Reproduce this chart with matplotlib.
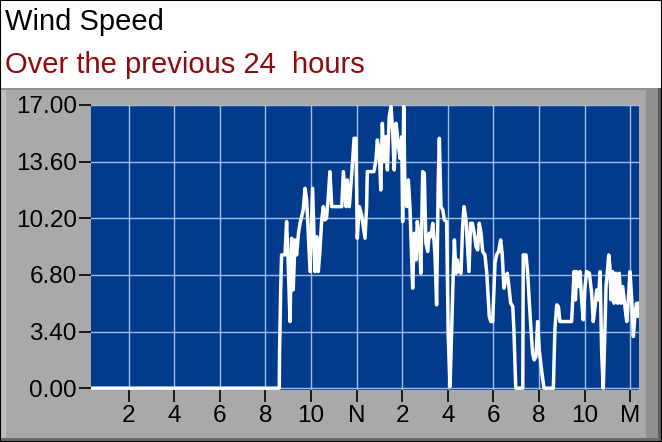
import matplotlib
matplotlib.use("Agg")
import matplotlib.pyplot as plt
from matplotlib.patches import Rectangle

# hours after midnight and wind speed
hours = [0.34, 8.61, 8.62, 8.67, 8.71, 8.86, 8.93, 9.00, 9.08, 9.15, 9.22, 9.30, 9.37, 9.45,
         9.52, 9.66, 9.74, 9.81, 9.91, 9.96, 10.07, 10.18, 10.25, 10.32, 10.39, 10.47, 10.54,
         10.61, 10.68, 10.76, 10.83, 10.91, 11.35, 11.42, 11.54, 11.59, 11.68, 11.79, 11.89,
         11.97, 12.03, 12.12, 12.22, 12.37, 12.44, 12.47, 12.76, 12.85, 12.91, 13.00, 13.06,
         13.13, 13.20, 13.29, 13.35, 13.43, 13.51, 13.58, 13.65, 13.73, 13.83, 13.90, 13.98,
         14.02, 14.07, 14.12, 14.20, 14.27, 14.34, 14.42, 14.46, 14.53, 14.61, 14.66, 14.74,
         14.82, 14.90, 14.97, 15.04, 15.12, 15.19, 15.26, 15.34, 15.44, 15.51, 15.58, 15.63,
         15.70, 15.78, 15.85, 15.95, 16.02, 16.10, 16.17, 16.24, 16.29, 16.36, 16.42, 16.48,
         16.58, 16.65, 16.71, 16.80, 16.86, 16.93, 17.00, 17.08, 17.16, 17.24, 17.31, 17.38,
         17.46, 17.53, 17.63, 17.71, 17.82, 17.89, 17.97, 18.07, 18.14, 18.23, 18.32, 18.39,
         18.46, 18.54, 18.61, 18.68, 18.76, 18.85, 18.90, 18.98, 19.29, 19.31, 19.43, 19.50,
         19.57, 19.65, 19.72, 19.79, 19.87, 19.94, 20.01, 20.12, 20.22, 20.63, 20.70, 20.78,
         20.85, 20.92, 21.43, 21.48, 21.54, 21.60, 21.65, 21.72, 21.80, 21.87, 21.94, 22.02,
         22.09, 22.21, 22.31, 22.38, 22.46, 22.53, 22.61, 22.68, 22.75, 22.82, 22.89, 22.94,
         23.00, 23.06, 23.11, 23.16, 23.23, 23.29, 23.38, 23.45, 23.52, 23.60, 23.67, 23.77,
         23.85, 23.92, 23.99, 24.07, 24.14, 24.21, 24.28, 24.35, 24.40]
speed = [0.0, 0.0, 2.0, 5.9, 8.0, 8.0, 10.0, 7.5, 4.0, 9.0, 5.9, 8.9, 8.0, 9.3,
         9.9, 10.7, 12.0, 11.3, 8.5, 7.0, 12.0, 7.0, 9.1, 7.0, 8.2, 10.1, 10.9,
         10.1, 10.2, 11.5, 13.0, 10.9, 10.9, 13.0, 10.9, 12.5, 10.9, 12.9, 15.0,
         15.0, 9.0, 10.9, 10.4, 9.0, 10.9, 13.0, 13.0, 13.7, 14.9, 14.2, 11.9,
         15.9, 13.6, 15.1, 13.1, 16.3, 16.9, 15.5, 13.1, 15.9, 14.7, 13.8, 15.1,
         10.0, 16.9, 11.7, 10.9, 12.5, 10.9, 7.7, 6.0, 9.3, 7.7, 10.0, 9.3,
         6.9, 13.0, 12.9, 8.7, 8.2, 9.3, 9.1, 9.9, 8.0, 5.0, 12.3, 15.0,
         10.9, 10.7, 10.1, 10.0, 3.1, 0.1, 3.6, 6.9, 8.9, 6.9, 7.7, 7.0,
         6.9, 9.7, 10.9, 10.1, 8.7, 7.0, 9.9, 9.9, 9.3, 8.5, 8.3, 9.9,
         9.3, 8.2, 8.0, 6.9, 4.3, 4.0, 4.0, 7.5, 8.0, 8.2, 8.9, 8.0,
         6.0, 6.5, 6.9, 6.1, 5.1, 4.9, 3.5, 0.0, 0.0, 8.0, 8.0, 7.0,
         5.3, 3.5, 2.1, 1.7, 1.9, 4.0, 2.3, 1.0, 0.0, 0.0, 3.6, 5.0,
         4.9, 4.0, 4.0, 5.3, 7.0, 5.3, 7.0, 6.1, 7.0, 5.3, 4.1, 6.1,
         7.0, 6.9, 5.7, 4.0, 4.9, 5.9, 5.3, 7.0, 2.1, 0.0, 3.3, 6.1,
         7.0, 8.0, 7.3, 5.3, 7.0, 5.1, 6.9, 5.1, 6.9, 5.1, 6.1, 4.9,
         4.0, 5.3, 7.0, 5.3, 3.1, 4.4, 5.1, 4.3, 5.1]

y_ticks = [0.0, 3.4, 6.8, 10.2, 13.6, 17.0]
x_ticks = [2, 4, 6, 8, 10, 12, 14, 16, 18, 20, 22, 24]
x_labels = ["2", "4", "6", "8", "10", "N", "2", "4", "6", "8", "10", "M"]

plt.rcParams['font.family'] = ['Liberation Sans', 'DejaVu Sans']

W, H = 662, 442
fig = plt.figure(figsize=(W / 100, H / 100), dpi=100)
fig.patch.set_facecolor('white')


def box(x, y, w, h, color):
    # rectangle in pixel units, y from the top
    fig.patches.append(Rectangle((x / W, 1 - (y + h) / H), w / W, h / H,
                                 transform=fig.transFigure, facecolor=color,
                                 edgecolor='none', zorder=-2))


# grey panel with a small bevel
box(0, 88, W, H - 88, '#a9a9a9')
box(0, 88, W, 2, '#8e8e8e')
box(0, 90, 6, H - 90, '#bcbcbc')
box(646, 90, 12, H - 90, '#8f8f8f')
box(658, 88, 4, H - 88, '#5e5e5e')
box(0, 438, W, 4, '#6a6a6a')
fig.patches.append(Rectangle((0, 0), 1, 1, transform=fig.transFigure, fill=False,
                             edgecolor='black', lw=1.5, zorder=5))

fig.text(5 / W, 1 - 30 / H, "Wind Speed", fontsize=21, color='black', va='baseline')
fig.text(5 / W, 1 - 73 / H, "Over the previous 24  hours", fontsize=21,
         color='#8f0a0a', va='baseline')

ax = fig.add_axes([90.7 / W, 1 - 389.5 / H, (639.3 - 90.7) / W, (389.5 - 105) / H])
ax.set_facecolor('#023b8c')
ax.plot(hours, speed, color='white', lw=2.5, zorder=3)
ax.set_xlim(0.338, 24.40)
ax.set_ylim(-0.08, 17.0)
ax.set_yticks(y_ticks)
ax.set_yticklabels([f"{v:.2f}" for v in y_ticks])
ax.set_xticks(x_ticks)
ax.set_xticklabels(x_labels)
ax.grid(True, color='#9dbce8', lw=1)
for s in ax.spines.values():
    s.set_visible(False)
ax.tick_params(direction='out', length=8.5, width=1.2, color='black', labelsize=17.5)
ax.tick_params(axis='y', pad=1.5)
ax.tick_params(axis='x', pad=2.5)

fig.savefig("out.png", dpi=100, facecolor=fig.get_facecolor())
